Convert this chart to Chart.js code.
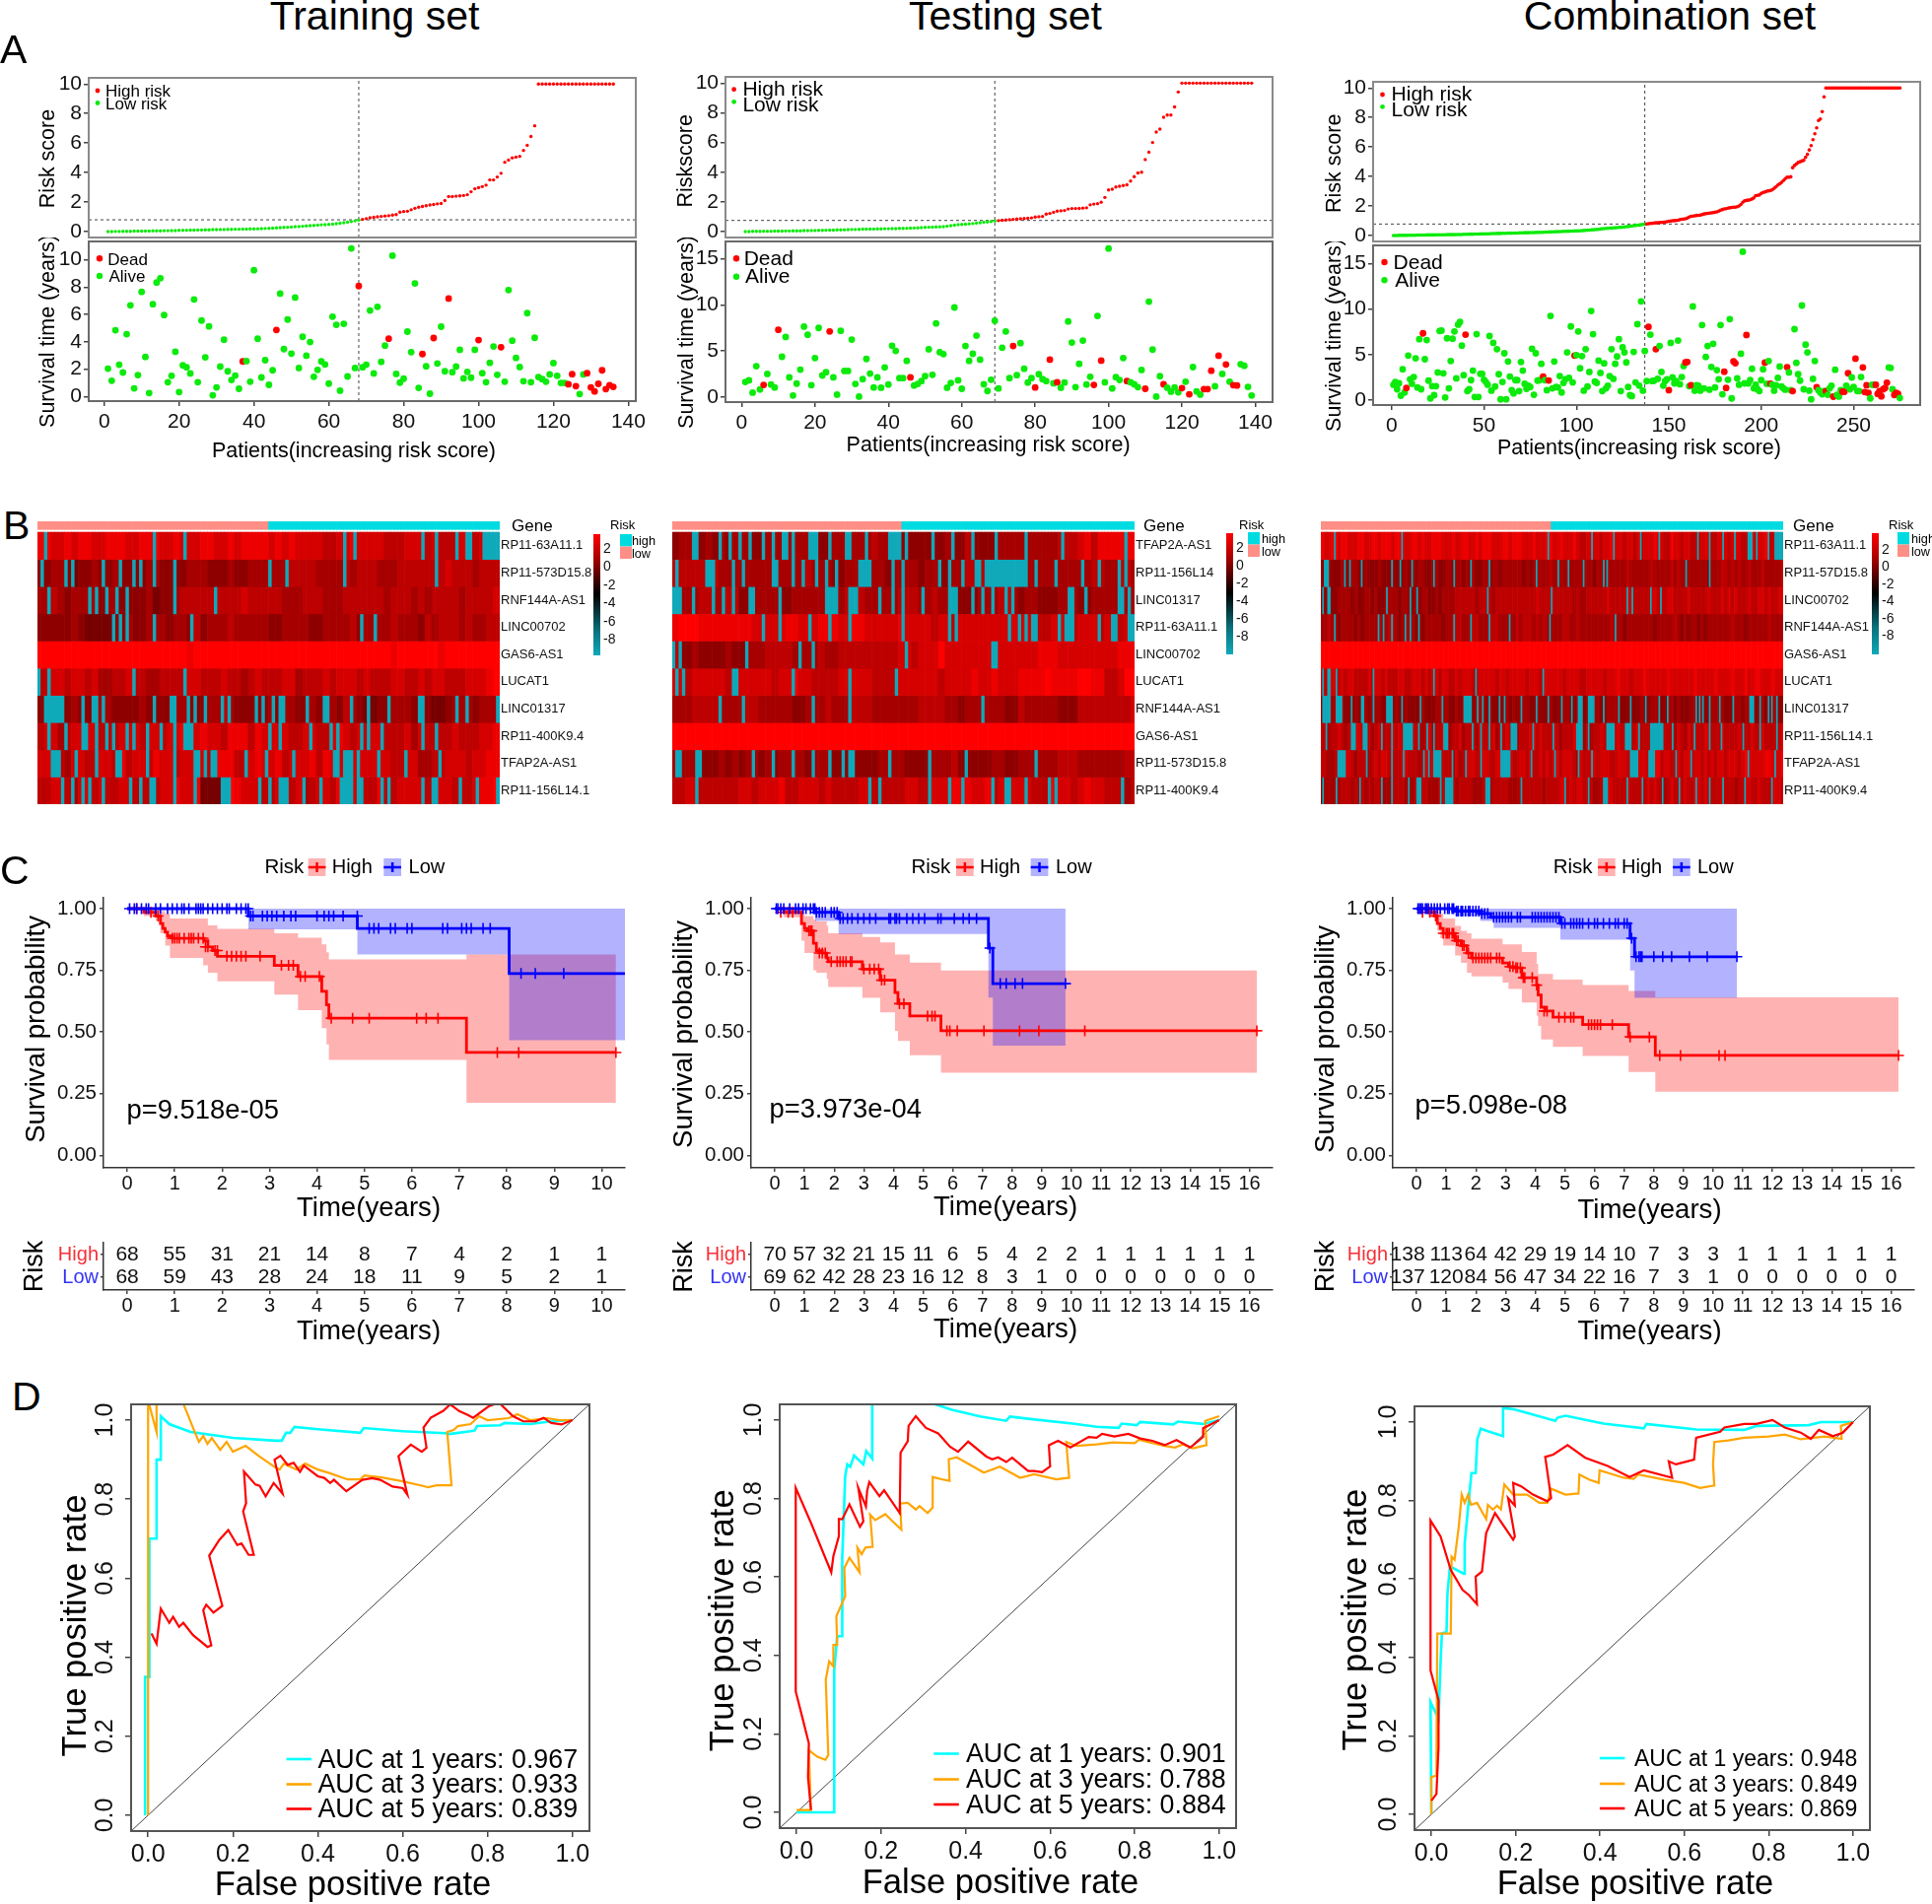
<!DOCTYPE html>
<html>
<head>
<meta charset="utf-8">
<title>Risk model panels</title>
<script src="https://cdn.jsdelivr.net/npm/chart.js@4/dist/chart.umd.js"></script>
<style>
body { margin:0; background:#fff; width:1960px; height:1932px; position:relative; overflow:hidden; font-family:"Liberation Sans",Arial,sans-serif; }
canvas { position:absolute; }
.lab { position:absolute; white-space:nowrap; line-height:1; color:#000; font-size:41px; }
</style>
</head>
<body>
<script>
// ---- A: risk score per patient, sorted
const riskTrain = [0,0,.01,.01,.02,.02,.02,.03,.03,.03,.04,.04,.05,.05,.05,.06,.06,.07,.07,.08,.09,.09,.1,.1,.11,.11,.12,.12,.13,.13,.14,.14,.15,.15,.16,.16,.17,.17,.18,.18,.19,.2,.21,.22,.23,.25,.27,.28,.29,.31,.33,.34,.36,.38,.4,.42,.44,.46,.47,.49,.51,.54,.57,.6,.64,.68,.73,.78,
  .83,.88,.94,.97,1,1.03,1.06,1.08,1.12,1.15,1.32,1.36,1.38,1.48,1.58,1.65,1.7,1.75,1.8,1.84,1.88,1.9,2.1,2.38,2.38,2.4,2.42,2.45,2.5,2.7,2.9,2.98,3.05,3.15,3.5,3.5,3.7,3.95,4.7,4.85,5,5.05,5.1,5.5,5.85,6.45,7.17,
  10,10,10,10,10,10,10,10,10,10,10,10,10,10,10,10,10,10,10,10,10];
const riskTest = [0,0,.01,.01,.01,.02,.02,.02,.03,.03,.03,.04,.04,.05,.05,.05,.06,.06,.07,.07,.08,.08,.09,.1,.1,.11,.11,.12,.13,.14,.14,.15,.16,.16,.17,.17,.18,.18,.19,.19,.2,.2,.21,.21,.22,.23,.24,.25,.27,.28,.29,.3,.31,.32,.33,.36,.4,.43,.46,.48,.5,.52,.54,.57,.6,.63,.65,.68,.72,
  .74,.76,.78,.8,.82,.84,.86,.88,.9,.92,.98,1,1.02,1.18,1.22,1.3,1.38,1.4,1.42,1.52,1.55,1.55,1.56,1.58,1.6,1.8,1.85,1.88,1.98,2.3,2.8,2.85,3,3.05,3.1,3.15,3.4,3.7,3.95,4,4.85,5.35,6,6.7,6.9,7.7,7.85,7.85,8.4,9.4,
  10,10,10,10,10,10,10,10,10,10,10,10,10,10,10,10,10,10,10,10];
const riskComb = [0,0,0,.01,.01,.01,.01,.01,.02,.02,.02,.02,.02,.03,.03,.03,.03,.03,.04,.04,.04,.04,.04,.05,.05,.05,.05,.05,.05,.06,.06,.06,.06,.06,.07,.07,.07,.07,.08,.08,.08,.09,.09,.09,.1,.1,.1,.11,.11,.11,.12,.12,.12,.13,.13,.13,.14,.14,.14,.15,.15,.15,.16,.16,.16,.17,.17,.17,.18,.18,.18,.19,.19,.19,.2,.2,.2,.21,.21,.21,.22,.22,.23,.23,.24,.24,.25,.25,.26,.26,.27,.27,.28,.28,.29,.29,.3,.3,.31,.31,.32,.32,.33,.34,.35,.36,.37,.38,.39,.4,.41,.42,.44,.46,.47,.48,.49,.5,.51,.52,.53,.54,.55,.56,.57,.58,.6,.61,.63,.65,.67,.68,.7,.71,.73,.75,.78,
  .79,.8,.82,.83,.85,.86,.87,.88,.89,.9,.92,.94,.97,.98,1,1.01,1.02,1.04,1.08,1.1,1.12,1.14,1.18,1.25,1.3,1.32,1.34,1.36,1.37,1.38,1.42,1.46,1.48,1.5,1.52,1.54,1.55,1.58,1.6,1.65,1.72,1.76,1.8,1.82,1.85,1.88,1.9,1.92,1.92,1.95,2,2.1,2.25,2.35,2.38,2.4,2.42,2.48,2.55,2.7,2.72,2.75,2.85,2.92,2.95,3,3.03,3.05,3.1,3.2,3.3,3.42,3.5,3.6,3.72,3.85,3.95,3.95,3.98,4.6,4.75,4.85,4.95,5,5.05,5.1,5.3,5.5,5.8,6.1,6.5,6.9,7.3,7.8,7.9,8.4,9.4,
  10,10,10,10,10,10,10,10,10,10,10,10,10,10,10,10,10,10,10,10,10,10,10,10,10,10,10,10,10,10,10,10,10,10,10,10,10,10,10,10,10];

// ---- A: survival time per patient, and which patients (1-based) died
const survTrain = [2.04,1.16,4.85,2.33,1.76,4.56,6.67,.6,1.57,7.65,2.9,.26,6.75,8.34,8.65,5.96,1.05,1.52,3.28,.33,2.28,2.14,1.69,7.1,1.05,5.56,2.87,5.13,.1,.67,2.19,4.16,1.85,1.21,1.54,.57,2.57,2.59,1.09,9.24,4.23,1.4,2.66,.86,1.92,4.87,7.53,3.47,5.63,3.14,7.24,2.09,4.37,2.99,3.99,1.45,1.95,2.57,2.35,.95,5.84,5.25,.43,5.32,1.47,10.83,2.09,8.08,2.14,2.33,6.29,1.69,6.56,2.54,3.73,4.23,10.3,1.66,1.02,1.31,4.75,3.25,8.27,.64,3.11,2.21,.21,4.28,2.42,5.11,1.85,7.17,1.78,2.19,3.42,1.33,1.81,1.38,3.42,4.13,1.71,1.05,2.47,3.66,1.59,3.61,1.09,7.79,4.09,2.83,2.16,1.12,6.1,1.05,4.3,1.43,1.28,1.09,1.62,2.45,1.52,1,1,.9,1.64,.76,.19,1.62,1.71,.67,.38,.93,1.92,.55,.83,.71];
const deadTrain = [37,46,68,76,85,88,92,100,106,124,125,126,129,130,131,132,133,134,135,136];
const survTest = [1.65,1.82,.49,3.36,.84,1.33,2.52,1.37,1.05,7.29,4.38,6.52,2.14,.18,1.47,2.98,7.64,6.76,1.3,4.24,7.5,2.35,2.7,7.12,2.14,.28,7.19,2.84,2.84,6.24,1.44,.07,1.96,4.14,2.56,1.05,2.14,1.02,3.22,1.37,5.57,5.01,2.07,2.07,3.93,2.14,1.26,1.44,1.75,2.28,5.19,2.42,7.99,4.87,4.66,1.02,1.54,9.71,1.82,.91,5.54,3.93,4.7,6.66,4.07,1.4,.67,1.89,8.27,.95,5.36,7.12,2.07,5.54,2.38,5.85,3.08,1.58,2.07,1.05,2.49,1.96,1.75,4.07,1.51,1.61,1.02,1.58,8.2,5.92,1.09,3.61,6.13,1.37,2.21,1.33,8.8,3.96,1.61,16.09,.95,2.17,1.86,4.24,1.75,1.61,1.4,1.09,2.94,.91,10.34,5.15,.07,2.28,1.4,1.02,.6,1.05,.53,.98,1.68,.32,3.26,.63,.28,.88,.88,2.87,1.19,4.49,2.52,3.54,1.68,1.3,1.26,3.57,3.4,1.12,.18];
const deadTest = [6,10,24,46,74,80,84,86,96,98,105,110,115,120,122,126,127,128,130,132,134,135];
const survComb = [1.7,2,1.2,1.85,.5,3.4,.85,1.35,4.9,2.3,1.8,2.55,4.6,1.4,6.7,1.2,7.34,4.5,6.6,2.15,.2,1.55,.55,1.55,3.05,7.6,7.65,2.95,.3,6.8,1.3,4.3,6.75,7.55,2.4,8.3,8.6,6,2.75,7.2,1,1.2,2.2,3.25,.35,7.25,.35,2.9,2.9,2.25,2,1.7,7.05,1.05,6.3,1.5,5.6,2.85,.1,2,5.15,.1,4.25,2.6,1.1,.75,2.2,2.2,1,4.2,3.25,1.8,1.25,1.6,1.45,5.65,.6,5.15,2.15,2.2,4,2.6,2.2,1.1,2.17,9.25,1.3,4.25,1.45,1.4,2.65,.85,1.9,2.3,5.25,2.45,8.1,1.95,4.9,4.95,7.55,3.5,4.85,1.05,5.6,1.5,3.1,9.8,7.25,2.05,1.9,4.35,3,1,4.05,1.3,1.6,2.65,5.6,2.35,4,4.8,6.7,1,5.8,5.25,4.15,1.45,.55,.45,5.3,1.95,8.35,1.6,10.85,1.05,5.4,2.1,8.05,7.2,2.1,2.15,5.6,2.35,5.95,3.1,1.6,2.1,2.3,1.1,6.3,2.5,1.85,2.1,6.55,1.75,2.55,3.75,4.15,4.2,1.55,1.64,10.3,1.05,1.65,1.6,1.05,8.25,1.3,4.75,5.95,1.15,3.65,6.2,1.4,3.3,2.3,8.25,.65,3.13,1.35,2.25,8.9,.2,4.27,4.06,2.4,1.7,5.1,16.3,1.85,7.16,1.85,2.2,3.45,1.3,1.7,1.2,1,2.2,3.4,4.13,1.8,4.3,1.82,1.7,1.05,1.65,2.45,3.7,1.5,1.3,1.15,3.63,3.05,1.1,1,7.8,4.1,2.85,2.15,10.4,1.2,6.1,5.25,1.05,.1,2.35,4.3,1.43,1.1,.85,.65,1,1,.6,1.3,1.6,.39,3.35,.6,.4,1.1,.93,.93,1.6,2.96,1.2,2.5,1.45,4.56,1,1,2.55,3.6,.9,1.64,.8,.2,1.7,1.7,1.7,.7,1,.43,1.2,1.35,1.92,3.6,3.55,1.2,.57,.8,.7,.25];
const deadComb = [8,17,40,82,85,99,139,143,150,159,160,162,180,181,185,186,192,202,205,214,217,230,235,239,244,245,247,251,255,256,257,258,262,263,264,265,266,267,268,272,273,274];

// ---- B: gene rows, per-row tone (one digit for two patients) and very low cells (1-based)
const genesTrain = ['RP11-63A11.1','RP11-573D15.8','RNF144A-AS1','LINC00702','GAS6-AS1','LUCAT1','LINC01317','RP11-400K9.4','TFAP2A-AS1','RP11-156L14.1'];
const toneTrain = [
 '77667677667776677766766677667677776767666655667666655566656555665656',
 '33443233433433334433334443334334444445555444454555444555555565554555',
 '44543444434433334233455555555565555544455544455555545554545555455556',
 '33333432222334334443443534445444443344443344445344445444354555454455',
 '88889988888989888888887888888888988888888888998888887888888788888889',
 '55665665644556554455556655565545655566455565666565556655656655566678',
 '34443433344333343333443334454333334344334344354322334443332234443444',
 '56645666655566656656675676657775766665566556765656655564655556555667',
 '66654665566575665766566665777556766756667576656666665566445566656677',
 '55665466565566555566766722288766655665645665756555755666656665556778'];
const lowTrain = [
 [3,35,44,91,94,114,118,124,127,128,132,133,134,135,136],
 [2,9,11,20,25,29,31,35,41,69,74,91,118],
 [4,16,18,21,24,27,41,53],
 [23,25,27,35,46,96,100],
 [],
 [1,4,29,44],
 [3,4,5,6,7,8,14,17,18,20,35,40,41,45,47,50,55,57,65,67,70,72,73,80,85,86,93,98,104,113,114,124,127,136],
 [4,9,14,15,18,21,23,27,29,33,37,41,44,45,46,69,72,81,87,89,96,98,102,114,118],
 [5,6,7,12,18,24,25,33,41,47,48,50,52,53,62,68,76,88,89,91,92,93,95,101,109,119],
 [8,11,14,16,20,28,31,34,35,41,47,55,56,57,66,69,72,73,74,79,84,90,91,92,93,95,96,102,104,114,117,118,125,130,136]];
const genesTest = ['TFAP2A-AS1','RP11-156L14','LINC01317','RP11-63A11.1','LINC00702','LUCAT1','RNF144A-AS1','GAS6-AS1','RP11-573D15.8','RP11-400K9.4'];
const toneTest = [
 '3444343434443344444444334434445443333333343353333444444444555675777777',
 '5555545444444444444454443344444434444344334455544444344444444445544554',
 '4444554455334444334444444455544444555445443333444554344333444334444544',
 '7888777777776666677666777667766666766665665666666666666556665666566566',
 '5334333343344455554444544555555555665666866666666666666777666666666777',
 '6656666655666665667665555666665555666666566667667666777787777887755688',
 '4445555444455444443344454445554444444555544344444433544444333555555556',
 '8899998888988888998988888889998888888998888898889888988889888888898888',
 '4444333434344343444434443333333444433334445333334433444444555444444455',
 '5566555555665666755666565555665555566556667776675666665557665676655545'];
const lowTest = [
 [7,8,15,18,21,24,28,31,34,35,37,42,43,44,48,53,54,59,66,67,68,69,71,79,85,91,98,107,118,137],
 [2,11,12,13,19,22,31,32,37,40,44,47,50,57,58,59,60,67,70,81,84,88,92,93,95,96,97,98,99,100,101,102,103,104,105,106,107,110,116,124,129,135,137],
 [1,2,3,7,13,16,19,24,25,33,47,48,49,50,54,55,56,63,67,70,76,84,85,86,91,94,97,101,103,120,121,125,135,136,138],
 [28,33,42,48,54,70,84,86,102,105,107,109,110,117,119,120,121,129,133,134,138,139],
 [1,3,23,39,43,71,97,98],
 [2,4,19,20,37,54,68],
 [15,22,43,54,94],
 [],
 [2,3,8,9,25,31,37,43,48,52,54,55,66,78,89,110],
 [8,60,63,78,84,88,97,101,102,107,114,116,136]];
const genesComb = ['RP11-63A11.1','RP11-57D15.8','LINC00702','RNF144A-AS1','GAS6-AS1','LUCAT1','LINC01317','RP11-156L14.1','TFAP2A-AS1','RP11-400K9.4'];
const toneComb = [
 '766776776667766776777677666776766777666766776676777666776777666766677667666765566665667666566565666766557665665556665566656665566566755665665565',
 '334333433443343334333433343434433443344344343433443443444444343444445444444444444344444444454444445444445454444444434445545454454445444445554555',
 '434334444343344343344443443343443343444455555545555455555555555565555555555454455555565555565555556655566555565555565556565655565566565566665666',
 '445443444434344445445543444434344444344555444554445554444454555454544444554454444444445444344444444344444543434434344444445444344444454444554444',
 '889888889888898889988888898888898888988888889888898888888988888889888988889988888888988888898888898888988888888898888888898888888898888889888889',
 '656665656655556566565556655666565665665565666556666656656666656665666666566665566666566676665666766666676666666766666766667666766776667666756666',
 '343443433343443444333343343333433344443343443344434333343434443343334333443344334443344443333334334443344343334434334444333443444334344433444444',
 '554556545566545456555656545554456455664556455546555645565545556656555654555656454556554565555565555655555465465555665556555565556556555556556667',
 '554455666545554565665555665554565666555464566655665566666556656556565665666546556656665566655566656775665565665665656566566656766666776667666777',
 '344444555454545455444555544454554445554545555444554555554445555555455556656566555445566555565555565654456555655665655556555455665565556665655545'];
const lowComb = [
 [9,49,136,162,175,191,202,225,232,240,247,255,256,257,260,267,271,272,273,274,275],
 [3,4,5,15,18,25,43,48,55,68,80,90,101,129,142,148,157,169,171,218,232],
 [2,5,6,40,54,58,100,138,183,186,197,203],
 [9,35,38,43,51,54,59,80,90,101,113,137,176],
 [],
 [2,5,6,10,32,68,93,133],
 [2,3,4,5,6,10,11,12,13,19,25,26,32,40,41,42,43,49,60,73,86,87,88,89,90,94,97,101,107,110,120,129,136,144,150,154,155,156,160,161,162,163,169,178,185,194,202,207,224,226,228,232,238,246,256,257,258,262,267,269,272],
 [4,19,20,21,26,27,28,37,43,50,51,52,53,54,55,59,64,68,74,75,76,91,96,101,108,114,115,116,117,127,139,153,154,155,156,160,171,172,173,174,175,182,183,184,185,190,197,198,199,200,201,202,203,204,210,223,232,239,252,262,272],
 [11,12,13,14,15,28,43,50,62,65,68,69,70,71,72,79,87,96,108,109,110,111,112,113,126,140,154,162,185,186,187,188,189,196,197,198,199,212,221,255,271],
 [2,10,24,37,43,53,58,59,60,72,75,76,77,78,79,99,100,101,120,146,160,169,170,171,183,192,204,214,224,232,240,253,269]];

// ---- C: Kaplan-Meier steps, bands, censor marks, numbers at risk
const kmHighT1 = [0,.35,.6,.7,.75,.8,.85,.95,1.62,1.7,1.8,1.9,3.1,3.6,4.1,4.2,4.25,7.15,10.3];
const kmHighS1 = [1,.985,.97,.94,.92,.905,.89,.88,.87,.845,.83,.807,.77,.725,.665,.61,.556,.417,.417];
const bandHighT1 = [.35,.6,.7,.8,.9,1.6,1.7,1.9,3.1,3.6,4.1,4.2,4.25,7.15,10.3];
const bandHighU1 = [1,1,.99,.98,.96,.96,.932,.918,.9,.882,.855,.823,.794,.814,.814];
const bandHighL1 = [.97,.95,.9,.85,.8,.77,.74,.705,.651,.589,.516,.45,.387,.213,.213];
const kmLowT1 = [0,2.55,4.85,8.05,10.49];
const kmLowS1 = [1,.97,.92,.737,.737];
const bandLowT1 = [2.55,4.85,8.05,10.49];
const bandLowU1 = [1,1,1,1];
const bandLowL1 = [.916,.814,.467,.467];
const marksHigh1 = [[1,[.2]],[.985,[.5]],[.97,[.65]],[.88,[.95,1,1.05,1.1,1.2,1.3,1.35,1.4,1.5,1.6]],[.845,[1.65,1.7]],[.83,[1.85,1.9]],[.807,[2.1,2.2,2.3,2.4,2.5,2.8]],[.77,[3.25,3.4,3.5]],[.725,[3.65,3.75,4.05]],[.556,[4.3,4.75,5.1,6.1,6.3,6.55]],[.417,[7.8,8.25,10.3]]];
const marksLow1 = [[1,[.05,.15,.2,.3,.4,.45,.6,.7,.85,.95,1.05,1.15,1.2,1.3,1.45,1.5,1.55,1.6,1.7,1.8,1.9,2,2.1,2.15,2.3,2.4,2.5,2.55]],[.97,[2.6,2.65,2.85,2.95,3.05,3.15,3.3,3.45,3.55,4,4.15,4.25,4.35,4.55,4.85]],[.92,[5.1,5.2,5.3,5.55,5.65,5.9,6,6.65,6.75,7.05,7.15,7.25,7.5,7.65]],[.737,[8.3,8.6,9.2]]];
const atRiskHigh1 = [68,55,31,21,14,8,7,4,2,1,1];
const atRiskLow1 = [68,59,43,28,24,18,11,9,5,2,1];

const kmHighT2 = [0,.3,.9,1,1.1,1.3,1.4,1.6,1.75,1.8,2.95,3.55,4.05,4.15,4.55,5.6,16.25];
const kmHighS2 = [1,.985,.94,.92,.91,.86,.83,.82,.8,.785,.755,.71,.66,.615,.565,.505,.505];
const bandHighT2 = [.3,.85,.9,1,1.3,1.4,1.75,1.8,2.95,3.55,4.05,4.15,4.55,5.6,16.25];
const bandHighU2 = [1,1,.99,.97,.955,.948,.93,.9,.885,.863,.814,.814,.781,.749,.749];
const bandHighL2 = [.965,.93,.87,.82,.75,.74,.715,.682,.638,.58,.505,.464,.406,.335,.335];
const kmLowT2 = [0,1.35,2.15,7.2,7.35,9.8];
const kmLowS2 = [1,.985,.96,.84,.696,.696];
const bandLowT2 = [1.35,2.15,7.2,7.35,9.8];
const bandLowU2 = [1,1,1,1,1];
const bandLowL2 = [.95,.897,.639,.445,.445];
const marksHigh2 = [[.985,[.2,.45,.6]],[.91,[1.15,1.2,1.25]],[.82,[1.5,1.6,1.7]],[.785,[1.9,2.1,2.2,2.3,2.4,2.55,2.6]],[.755,[3,3.2,3.35,3.5]],[.71,[3.6,3.7]],[.615,[4.2,4.35]],[.565,[5.15,5.3,5.4]],[.505,[5.8,5.9,6.15,7.05,8.25,8.9,10.45,16.25]]];
const marksLow2 = [[1,[.05,.1,.2,.3,.5,.7,.8,.95,1.05,1.2,1.3,1.35]],[.985,[1.4,1.5,1.6,1.7,1.9,2,2.1]],[.96,[2.2,2.3,2.45,2.6,2.8,3,3.2,3.4,3.85,3.9,4.05,4.1,4.2,4.45,4.65,4.85,5.05,5.5,5.6,6.05,6.35,6.55,6.8]],[.84,[7.25]],[.696,[7.6,7.8,8.1,8.35,9.8]]];
const atRiskHigh2 = [70,57,32,21,15,11,6,5,4,2,2,1,1,1,1,1,1];
const atRiskLow2 = [69,62,42,28,23,16,12,8,3,1,0,0,0,0,0,0,0];

const kmHighT3 = [0,.4,.6,.7,.8,.9,1.3,1.5,1.7,1.85,2.9,3.1,3.3,3.55,4.05,4.1,4.2,4.35,4.6,5.6,7.15,8.05,16.25];
const kmHighS3 = [1,.985,.97,.94,.92,.9,.87,.85,.82,.8,.78,.765,.76,.72,.69,.65,.6,.585,.56,.53,.48,.405,.405];
const bandHighT3 = [.4,.6,.7,.8,.9,1.3,1.5,1.7,1.85,2.9,3.1,3.55,4.05,4.1,4.2,4.6,5.6,7.15,8.05,16.25];
const bandHighU3 = [1,1,.99,.98,.96,.93,.91,.9,.878,.855,.855,.824,.776,.735,.735,.712,.69,.666,.64,.64];
const bandHighL3 = [.97,.95,.91,.88,.85,.81,.78,.74,.725,.7,.674,.62,.566,.525,.47,.44,.403,.338,.258,.258];
const kmLowT3 = [0,1.3,2.15,2.5,4.85,7.2,7.35,10.8];
const kmLowS3 = [1,.99,.98,.965,.94,.88,.805,.805];
const bandLowT3 = [1.3,2.15,2.6,4.85,7.2,7.35,10.8];
const bandLowU3 = [1,1,1,1,1,1,1];
const bandLowL3 = [.97,.95,.922,.874,.749,.638,.638];
const marksHigh3 = [[.985,[.2,.45]],[.97,[.65]],[.9,[.9,1,1.05,1.1,1.2,1.25]],[.87,[1.35,1.4]],[.85,[1.55,1.6]],[.82,[1.75]],[.8,[1.9,2,2.1,2.2,2.3,2.4,2.5,2.7,2.8]],[.765,[3.15,3.25]],[.76,[3.35,3.4,3.5]],[.72,[3.6,3.65,3.9]],[.69,[4.05]],[.585,[4.3,4.4]],[.56,[4.8,5,5.2,5.3]],[.53,[5.8,5.9,6,6.1,6.2,6.6]],[.48,[7.2,7.85]],[.405,[8.2,8.9,10.2,10.4,16.25]]];
const marksLow3 = [[1,[.05,.1,.15,.2,.3,.35,.4,.5,.6,.7,.8,.95,1.05,1.1,1.2,1.25]],[.99,[1.35,1.4,1.5,1.55,1.65,1.75,1.8,1.9,2,2.1]],[.98,[2.2,2.3,2.4]],[.965,[2.6,2.7,2.8,2.9,3,3.1,3.2,3.4,3.5,3.9,4,4.1,4.2,4.3,4.4,4.5,4.6,4.7,4.8]],[.94,[4.9,5,5.2,5.3,5.4,5.5,5.6,5.8,6,6.1,6.3,6.5,6.7,6.8,7,7.1]],[.88,[7.25]],[.805,[7.4,7.5,7.55,7.6,8,8.3,8.6,9.2,9.8,10.8]]];
const atRiskHigh3 = [138,113,64,42,29,19,14,10,7,3,3,1,1,1,1,1,1];
const atRiskLow3 = [137,120,84,56,47,34,22,16,7,3,1,0,0,0,0,0,0];

// ---- D: ROC curves as [fpr, tpr]
const rocDiagonal = [[-.04,-.04],[1.04,1.04]];
const roc1y1 = [[-.007,0],[-.007,.35],[.003,.35],[.003,.7],[.02,.7],[.02,.9],[.03,.9],[.03,1.01],[.05,.99],[.1,.97],[.2,.955],[.3,.948],[.315,.948],[.325,.968],[.335,.968],[.345,.983],[.4,.977],[.5,.968],[.508,.98],[.6,.972],[.7,.967],[.71,.965],[.76,.972],[.77,.974],[.775,.985],[.83,.987],[.84,.993],[.9,.99],[.95,.997],[1,1]];
const roc1y3 = [[0,0],[0,1.05],[.02,.97],[.02,1.05],[.08,1.05],[.11,.97],[.12,.945],[.13,.96],[.14,.94],[.15,.955],[.17,.925],[.185,.945],[.2,.92],[.22,.93],[.23,.935],[.26,.91],[.3,.88],[.31,.875],[.32,.89],[.35,.875],[.37,.89],[.4,.875],[.43,.865],[.47,.85],[.5,.85],[.51,.86],[.55,.855],[.6,.845],[.65,.833],[.66,.83],[.68,.835],[.715,.835],[.705,.97],[.72,.975],[.73,.985],[.76,.99],[.78,1.01],[.8,1],[.85,1.005],[.87,1.015],[.9,1],[.94,1.005],[.97,1],[1,1]];
const roc1y5 = [[.008,.46],[.02,.434],[.03,.523],[.05,.487],[.059,.502],[.073,.477],[.083,.487],[.106,.456],[.14,.426],[.149,.43],[.13,.519],[.137,.533],[.154,.513],[.175,.53],[.144,.657],[.168,.697],[.189,.722],[.21,.684],[.22,.688],[.237,.659],[.249,.659],[.224,.769],[.231,.79],[.226,.87],[.253,.837],[.263,.834],[.277,.807],[.296,.841],[.317,.814],[.298,.9],[.312,.91],[.329,.887],[.343,.892],[.358,.869],[.367,.885],[.4,.858],[.415,.854],[.429,.841],[.438,.849],[.467,.82],[.505,.849],[.528,.853],[.547,.849],[.576,.832],[.6,.828],[.611,.811],[.59,.909],[.619,.938],[.645,.92],[.656,.93],[.649,.981],[.666,1.006],[.695,1.023],[.712,1.04],[.733,1.023],[.752,1.014],[.766,1.006],[.804,1.036],[.827,1.044],[.86,1.01],[.884,.997],[.913,.997],[.932,1.006],[.95,.993],[.974,.989],[1,1]];
const roc2y1 = [[0,0],[.089,0],[.089,.363],[.096,.449],[.108,.449],[.108,.649],[.115,.857],[.12,.887],[.127,.881],[.136,.91],[.158,.887],[.165,.921],[.179,.902],[.179,1.045],[.32,1.043],[.367,1.026],[.434,1.009],[.496,.998],[.505,1.009],[.558,1.002],[.653,.991],[.71,.983],[.762,.98],[.769,.991],[.805,.987],[.813,.995],[.891,.989],[.902,.996],[.962,.99],[1,1]];
const roc2y3 = [[0,.006],[.034,.006],[.029,.159],[.049,.142],[.068,.134],[.075,.146],[.069,.338],[.077,.385],[.087,.372],[.087,.427],[.096,.427],[.094,.5],[.115,.551],[.113,.623],[.125,.649],[.149,.612],[.144,.675],[.154,.658],[.163,.675],[.18,.677],[.174,.759],[.186,.745],[.21,.76],[.226,.743],[.248,.721],[.245,.787],[.263,.789],[.282,.772],[.291,.781],[.31,.763],[.322,.777],[.322,.855],[.343,.849],[.362,.845],[.36,.9],[.379,.905],[.443,.866],[.481,.881],[.529,.853],[.562,.862],[.615,.849],[.645,.853],[.638,.944],[.662,.934],[.71,.938],[.748,.943],[.8,.941],[.81,.95],[.871,.934],[.895,.93],[.914,.938],[.938,.928],[.97,.936],[.967,.998],[1,1.01]];
const roc2y5 = [[.034,.006],[.027,.09],[.029,.176],[.015,.236],[-.002,.308],[-.002,.827],[.034,.738],[.082,.612],[.087,.653],[.1,.704],[.1,.748],[.108,.747],[.125,.785],[.15,.728],[.158,.742],[.146,.827],[.164,.78],[.167,.82],[.172,.842],[.196,.806],[.207,.821],[.244,.763],[.246,.917],[.263,.946],[.265,.985],[.282,1.01],[.306,.98],[.335,.966],[.363,.932],[.382,.919],[.406,.945],[.449,.907],[.463,.9],[.477,.905],[.496,.893],[.51,.904],[.548,.87],[.562,.87],[.581,.867],[.6,.882],[.597,.936],[.619,.947],[.648,.93],[.691,.957],[.71,.955],[.723,.965],[.752,.958],[.785,.965],[.813,.953],[.842,.947],[.871,.936],[.899,.949],[.932,.93],[.962,.957],[.962,.979],[1,1]];
const roc3y1 = [[0,0],[-.002,.286],[.017,.244],[.022,.393],[.025,.461],[.036,.465],[.038,.559],[.044,.632],[.077,.613],[.079,.691],[.095,.87],[.105,.87],[.109,.956],[.117,.983],[.132,.977],[.17,.964],[.17,1.036],[.198,1.032],[.294,1.003],[.299,1.011],[.318,1.016],[.408,.996],[.504,.984],[.51,.995],[.628,.981],[.742,.98],[.771,.99],[.895,.992],[.924,1],[1,1]];
const roc3y3 = [[0,0],[0,.095],[.012,.099],[.014,.461],[.046,.461],[.048,.657],[.055,.649],[.065,.734],[.072,.815],[.079,.794],[.087,.815],[.094,.789],[.108,.794],[.13,.753],[.134,.789],[.146,.777],[.156,.787],[.165,.777],[.173,.841],[.194,.815],[.227,.815],[.256,.794],[.275,.794],[.284,.83],[.318,.815],[.349,.818],[.351,.866],[.375,.853],[.397,.845],[.399,.877],[.456,.858],[.48,.855],[.49,.866],[.552,.853],[.599,.845],[.637,.832],[.671,.838],[.668,.892],[.671,.949],[.704,.953],[.742,.96],[.8,.963],[.838,.968],[.876,.956],[.933,.963],[.973,.957],[.971,.99],[1,1]];
const roc3y5 = [[0,.035],[.012,.052],[.017,.171],[.017,.291],[-.002,.367],[-.002,.749],[.022,.708],[.046,.623],[.074,.572],[.089,.559],[.108,.536],[.105,.606],[.12,.619],[.13,.717],[.151,.768],[.194,.7],[.198,.708],[.182,.806],[.198,.787],[.194,.845],[.213,.836],[.241,.815],[.275,.798],[.284,.806],[.27,.911],[.289,.917],[.323,.941],[.365,.909],[.418,.888],[.47,.86],[.504,.877],[.571,.858],[.563,.9],[.58,.892],[.623,.904],[.628,.96],[.685,.975],[.695,.986],[.742,.995],[.771,.995],[.809,1.005],[.838,.986],[.876,.973],[.9,.957],[.919,.98],[.952,.964],[.976,.973],[1,1]];

const FONT = '"Liberation Sans", Arial, sans-serif';
Chart.defaults.font.family = FONT;
const GREEN = '#0CEB0C', RED = '#FF0000', SALMON = '#FF8F86', CYAN = '#00DBE2';

// force the scale box to a fixed size, so the plot rectangle is what we asked for
const pin = n => s => {
  if (s.isHorizontal()) s.height = n; else s.width = n;
  s.paddingLeft = s.paddingRight = s.paddingTop = s.paddingBottom = 0;
};

function axis(min, max, vals, size, pinTo, o = {}) {
  return {
    type: 'linear', min, max, reverse: !!o.reverse, position: o.position,
    afterBuildTicks: s => { s.ticks = vals.map(v => ({ value: v })); },
    afterFit: pin(pinTo),
    grid: { drawOnChartArea: false, drawTicks: true, tickLength: o.tick ?? 5, color: '#444', lineWidth: 1.5 },
    border: { color: '#333', width: 1.5 },
    ticks: { font: { size }, color: o.color || '#111', autoSkip: false, minRotation: o.rot || 0, maxRotation: o.rot || 0,
      padding: o.pad ?? 3, crossAlign: o.cross || 'near', callback: o.fmt || (v => v) }
  };
}
const bare = (min, max, pinTo) => ({ type: 'linear', min, max, afterFit: pin(pinTo), ticks: { display: false }, grid: { display: false, drawTicks: false }, border: { display: false } });

// text, dots and keys placed in page coordinates
const T = (t, x, y, s, o = {}) => Object.assign({ t, x, y, s }, o);
function notes(items) {
  return { id: 'notes', afterDraw(chart) {
    const c = chart.ctx, ox = parseFloat(chart.canvas.style.left), oy = parseFloat(chart.canvas.style.top);
    items.forEach(i => {
      c.save();
      c.translate(i.x - ox, i.y - oy);
      if (i.t !== undefined) {
        if (i.r) c.rotate(i.r * Math.PI / 180);
        c.font = `${i.s}px ${FONT}`; c.fillStyle = i.c || '#000';
        c.textAlign = i.a || 'left'; c.textBaseline = 'middle';
        c.fillText(i.t, 0, 1.5);
      } else if (i.dot) {
        c.fillStyle = i.c; c.beginPath(); c.arc(0, 0, i.dot, 0, 7); c.fill();
      } else if (i.w) {
        c.fillStyle = i.c; c.fillRect(0, 0, i.w, i.h);
      } else if (i.len) {
        c.strokeStyle = i.c; c.lineWidth = i.lw || 2.5;
        c.beginPath(); c.moveTo(0, 0); c.lineTo(i.len, 0);
        if (i.cross) { c.moveTo(i.len / 2, -5); c.lineTo(i.len / 2, 5); }
        c.stroke();
      }
      c.restore();
    });
  } };
}
const frame = col => ({ id: 'frame', afterDatasetsDraw(chart) {
  const a = chart.chartArea, c = chart.ctx;
  c.save(); c.strokeStyle = col; c.lineWidth = 2; c.strokeRect(a.left, a.top, a.right - a.left, a.bottom - a.top); c.restore();
} });

function place(rect, m, type, datasets, scales, plugins, padding, labels) {
  const cv = document.createElement('canvas');
  cv.width = rect.w + m.l + m.r; cv.height = rect.h + m.t + m.b;
  cv.style.left = (rect.x - m.l) + 'px'; cv.style.top = (rect.y - m.t) + 'px';
  document.body.appendChild(cv);
  return new Chart(cv, { type, data: { labels, datasets }, plugins,
    options: { responsive: false, animation: false, events: [], devicePixelRatio: 1, layout: { padding }, scales,
      elements: { line: { tension: 0 } }, plugins: { legend: { display: false }, tooltip: { enabled: false } } } });
}
const pts = (xs, ys) => xs.map((x, i) => ({ x, y: ys[i] }));
const rule = (a, b) => ({ data: [a, b], borderColor: '#444', borderWidth: 1, borderDash: [3, 3], pointRadius: 0 });
const tickRange = n => Array.from({ length: n }, (_, i) => i);

function panelA(o) {
  const split = o.split, n = o.risk.length;
  const xv = tickRange(n).map(i => i + 1);
  const colRisk = xv.map(p => p <= split ? GREEN : RED);
  const colSurv = xv.map(p => o.dead.includes(p) ? RED : GREEN);
  const m1 = { l: 70, r: 14, t: 8, b: 2 };
  place(o.r1, m1, 'line', [
    { data: pts(xv, o.risk), showLine: false, pointRadius: o.rad, pointBorderWidth: 0, pointBackgroundColor: colRisk },
    rule({ x: split, y: o.y1[0] }, { x: split, y: o.y1[1] }),
    rule({ x: o.xlim[0], y: o.cut }, { x: o.xlim[1], y: o.cut })
  ], {
    x: bare(o.xlim[0], o.xlim[1], m1.b),
    y: axis(o.y1[0], o.y1[1], [0, 2, 4, 6, 8, 10], 21, m1.l, { tick: 5, pad: 2 })
  }, [frame('#8a8a8a'), notes(o.n1)], { top: m1.t, right: m1.r });
  const m2 = { l: 70, r: 14, t: 2, b: 62 };
  place(o.r2, m2, 'line', [
    { data: pts(xv, o.surv), showLine: false, pointRadius: 3.4, pointBorderWidth: 0, pointBackgroundColor: colSurv },
    rule({ x: split, y: o.y2[0] }, { x: split, y: o.y2[1] })
  ], {
    x: axis(o.xlim[0], o.xlim[1], o.xt, 21, m2.b, { tick: 5, pad: 4 }),
    y: axis(o.y2[0], o.y2[1], o.yt, 21, m2.l, { tick: 5, pad: 2 })
  }, [frame('#6a6a6a'), notes(o.n2)], { top: m2.t, right: m2.r });
}

panelA({ risk: riskTrain, surv: survTrain, dead: deadTrain, split: 68, cut: .8, rad: 1.7,
  r1: { x: 90, y: 79, w: 555, h: 164 }, r2: { x: 90, y: 243, w: 555, h: 164 }, xlim: [-4.14, 142], y1: [-.4, 10.42], y2: [-.33, 11.34],
  xt: [0, 20, 40, 60, 80, 100, 120, 140], yt: [0, 2, 4, 6, 8, 10],
  n1: [T('Risk score', 47.7, 161, 21.5, { r: -90, a: 'center' }), { dot: 2.4, x: 99, y: 92, c: RED }, { dot: 2.4, x: 99, y: 104.5, c: GREEN }, T('High risk', 107, 92, 17), T('Low risk', 107, 105, 17)],
  n2: [T('Survival time (years)', 47.7, 336, 21.5, { r: -90, a: 'center' }), { dot: 3.2, x: 101, y: 262.3, c: RED }, { dot: 3.2, x: 101, y: 280, c: GREEN }, T('Dead', 109.3, 263.3, 17), T('Alive', 110.5, 280, 17), T('Patients(increasing risk score)', 359, 456.5, 21.5, { a: 'center' })] });
panelA({ risk: riskTest, surv: survTest, dead: deadTest, split: 69, cut: .75, rad: 1.7,
  r1: { x: 736, y: 78, w: 555, h: 165 }, r2: { x: 736, y: 243, w: 555, h: 165 }, xlim: [-4.4, 144.7], y1: [-.4, 10.42], y2: [-.53, 16.86],
  xt: [0, 20, 40, 60, 80, 100, 120, 140], yt: [0, 5, 10, 15],
  n1: [T('Riskscore', 694.5, 163.3, 21.5, { r: -90, a: 'center' }), { dot: 2.4, x: 744.6, y: 90.7, c: RED }, { dot: 2.4, x: 744.6, y: 103.3, c: GREEN }, T('High risk', 753.4, 90, 21), T('Low risk', 753.4, 106, 21)],
  n2: [T('Survival time (years)', 695.8, 337, 21.5, { r: -90, a: 'center' }), { dot: 3.2, x: 747, y: 262.3, c: RED }, { dot: 3.2, x: 747, y: 280.7, c: GREEN }, T('Dead', 754.7, 262, 21), T('Alive', 756, 280, 21), T('Patients(increasing risk score)', 1002.6, 450.7, 21.5, { a: 'center' })] });
panelA({ risk: riskComb, surv: survComb, dead: deadComb, split: 137, cut: .78, rad: 1.8,
  r1: { x: 1393, y: 83, w: 555, h: 164 }, r2: { x: 1393, y: 247, w: 555, h: 164 }, xlim: [-10, 286], y1: [-.4, 10.42], y2: [-.53, 17],
  xt: [0, 50, 100, 150, 200, 250], yt: [0, 5, 10, 15],
  n1: [T('Risk score', 1352.7, 165.8, 21.5, { r: -90, a: 'center' }), { dot: 2.4, x: 1402.5, y: 96, c: RED }, { dot: 2.4, x: 1402.5, y: 108.3, c: GREEN }, T('High risk', 1411.6, 94.5, 21), T('Low risk', 1411.6, 110.7, 21)],
  n2: [T('Survival time (years)', 1352.7, 340, 21.5, { r: -90, a: 'center' }), { dot: 3.2, x: 1404.5, y: 266, c: RED }, { dot: 3.2, x: 1404.5, y: 284.3, c: GREEN }, T('Dead', 1413.6, 265.7, 21), T('Alive', 1415.3, 284, 21), T('Patients(increasing risk score)', 1663, 453.3, 21.5, { a: 'center' })] });

// colour ramp of the heatmaps: teal - black - red
function heatColor(v) {
  const k = v >= -3 ? Math.min(1, (v + 3) / 6) : Math.min(1, (-3 - v) / 6);
  return v >= -3 ? `rgb(${Math.round(255 * k)},0,0)` : `rgb(${Math.round(15 * k)},${Math.round(169 * k)},${Math.round(186 * k)})`;
}
const LOW_CELL = -9;
const toneValue = d => -1.3 + .55 * d;

function panelB(o) {
  const n = o.cols, labels = tickRange(n).map(i => i + 1);
  const rows = o.genes.map((g, r) => {
    const low = o.low[r];
    const vals = labels.map((p, i) => low.includes(p) ? LOW_CELL : toneValue(+(o.tone[r][Math.floor(i / 2)] ?? 5)));
    return { data: vals.map(() => [r, r + 1]), backgroundColor: vals.map(heatColor), grouped: false, barPercentage: 1, categoryPercentage: 1, borderWidth: 0, borderSkipped: false };
  });
  rows.push({ data: labels.map(() => [-.39, -.1]), backgroundColor: labels.map(p => p <= o.split ? SALMON : CYAN), grouped: false, barPercentage: 1, categoryPercentage: 1, borderWidth: 0, borderSkipped: false });
  const m = { l: 0, r: 165, t: 8, b: 2 };
  place(o.rect, m, 'bar', rows, {
    x: { type: 'category', afterFit: pin(m.b), ticks: { display: false }, grid: { display: false, drawTicks: false }, border: { display: false } },
    y: { type: 'linear', min: -.4, max: 10, reverse: true, position: 'right', afterFit: pin(m.r), grid: { display: false, drawTicks: false }, border: { display: false },
      afterBuildTicks: s => { s.ticks = o.genes.map((g, i) => ({ value: i + .5 })); },
      ticks: { autoSkip: false, padding: 1, font: { size: 13 }, color: '#111', callback: (v, i) => o.genes[i] } }
  }, [notes(o.n)], { top: m.t }, labels);
  const mc = { l: 0, r: 26, t: 1, b: 1 };
  place(o.bar, mc, 'bar', [{ data: [[o.barLim[0], o.barLim[1]]], barPercentage: 1, categoryPercentage: 1, borderWidth: 0, borderSkipped: false,
    backgroundColor: c => {
      const a = c.chart.chartArea; if (!a) return RED;
      const g = c.chart.ctx.createLinearGradient(0, a.top, 0, a.bottom), y = c.chart.scales.y;
      const stop = v => Math.max(0, Math.min(1, (y.getPixelForValue(v) - a.top) / (a.bottom - a.top)));
      [o.barLim[1], 1, -1, -3, -5, -7, o.barLim[0]].forEach(v => g.addColorStop(stop(v), heatColor(v)));
      return g;
    } }], {
    x: { type: 'category', afterFit: pin(mc.b), ticks: { display: false }, grid: { display: false, drawTicks: false }, border: { display: false } },
    y: { type: 'linear', min: o.barLim[0], max: o.barLim[1], position: 'right', afterFit: pin(mc.r), grid: { display: false, drawTicks: false }, border: { display: false },
      afterBuildTicks: s => { s.ticks = [2, 0, -2, -4, -6, -8].map(v => ({ value: v })); },
      ticks: { autoSkip: false, padding: 3, font: { size: 14 }, color: '#111', callback: v => v } }
  }, [], { top: mc.t }, ['']);
}
const heatKey = (g, r, q, hx, y0) => [T('Gene', g, 533, 17), T('Risk', r, 532, 13),
  { x: q, y: y0, w: 12, h: 12.5, c: CYAN }, { x: q, y: y0 + 12.5, w: 12, h: 12.5, c: SALMON }, T('high', hx, y0 + 6, 12.7), T('low', hx, y0 + 18.5, 12.7)];
panelB({ genes: genesTrain, tone: toneTrain, low: lowTrain, cols: 136, split: 68, rect: { x: 38, y: 529, w: 469, h: 287 }, bar: { x: 602, y: 542, w: 7, h: 123 }, barLim: [-9.7, 3.6], n: heatKey(519, 619, 629, 641, 542) });
panelB({ genes: genesTest, tone: toneTest, low: lowTest, cols: 139, split: 69, rect: { x: 682, y: 529, w: 469, h: 287 }, bar: { x: 1244, y: 541, w: 7, h: 123 }, barLim: [-9.96, 3.74], n: heatKey(1160, 1257, 1266, 1280, 540) });
panelB({ genes: genesComb, tone: toneComb, low: lowComb, cols: 275, split: 137, rect: { x: 1340, y: 529, w: 469, h: 287 }, bar: { x: 1899, y: 541, w: 7, h: 123 }, barLim: [-10.1, 3.9], n: heatKey(1819, 1916, 1925, 1939, 540) });

const KM_RED = 'rgba(255,0,0,.3)', KM_BLUE = 'rgba(0,0,255,.3)';
const crossMarks = (groups, col) => ({ data: groups.flatMap(([s, ts]) => ts.map(t => ({ x: t, y: s }))), showLine: false, pointStyle: 'cross', pointRadius: 5.5, borderColor: col, pointBorderColor: col, pointBorderWidth: 1.6 });
const step = (t, s, col) => ({ data: pts(t, s), stepped: true, borderColor: col, borderWidth: 2.8, pointRadius: 0 });
const bandTop = (t, s, col) => ({ data: pts(t, s), stepped: true, borderWidth: 0, pointRadius: 0, fill: '+1', backgroundColor: col });
const bandBottom = (t, s) => ({ data: pts(t, s), stepped: true, borderWidth: 0, pointRadius: 0, fill: false });

function panelC(o) {
  const xt = tickRange(o.lastTick + 1);
  const m = { l: 85, r: 16, t: 48, b: 60 };
  place({ x: o.x, y: 911, w: 529, h: 274 }, m, 'line', [
    crossMarks(o.marksLow, '#0000FF'), crossMarks(o.marksHigh, '#FF0000'),
    step(o.lowT, o.lowS, '#0000FF'), step(o.highT, o.highS, '#FF0000'),
    bandTop(o.bLowT, o.bLowU, KM_BLUE), bandBottom(o.bLowT, o.bLowL),
    bandTop(o.bHighT, o.bHighU, KM_RED), bandBottom(o.bHighT, o.bHighL)
  ], {
    x: axis(o.xlim[0], o.xlim[1], xt, 20, m.b, { tick: 4, pad: 0, color: '#111' }),
    y: axis(-.0507, 1.044, [0, .25, .5, .75, 1], 20.5, m.l, { tick: 4, pad: 3, fmt: v => v.toFixed(2) })
  }, [notes(o.n)], { top: m.t, right: m.r });
  const mt = { l: 85, r: 16, t: 4, b: 55 };
  const numbers = { id: 'numbers', afterDatasetsDraw(chart) {
    const c = chart.ctx; c.save(); c.font = `21px ${FONT}`; c.fillStyle = '#111'; c.textAlign = 'center'; c.textBaseline = 'middle';
    chart.data.datasets.forEach((d, k) => chart.getDatasetMeta(k).data.forEach((p, i) => c.fillText(d.counts[i], p.x, p.y)));
    c.restore();
  } };
  const rowX = t => t === 0 ? (o.firstX ?? 0) : t;
  place({ x: o.x, y: 1261, w: 529, h: 48 }, mt, 'line', [
    { data: xt.map(t => ({ x: rowX(t), y: .75 })), counts: o.atHigh, showLine: false, pointRadius: 0 },
    { data: xt.map(t => ({ x: rowX(t), y: .27 })), counts: o.atLow, showLine: false, pointRadius: 0 }
  ], {
    x: axis(o.xlim[0], o.xlim[1], xt, 20, mt.b, { tick: 4, pad: 0 }),
    y: axis(0, 1, [.75, .27], 20, mt.l, { tick: 3, pad: 2, fmt: v => v > .5 ? 'High' : 'Low', color: c => c.tick && c.tick.value > .5 ? '#F53038' : '#3232F5' })
  }, [numbers, notes(o.nt)], { top: mt.t, right: mt.r });
}
const kmKey = (r, b1, h, b2, l) => [T('Risk', r, 879, 20.5),
  { x: b1, y: 871, w: 17.7, h: 18, c: '#FFB2B2' }, { x: b1, y: 880, len: 17.7, c: '#FF0000', cross: 1 }, T('High', h, 879, 20),
  { x: b2, y: 871, w: 17.7, h: 18, c: '#B2B2FF' }, { x: b2, y: 880, len: 17.7, c: '#0000FF', cross: 1 }, T('Low', l, 879, 20)];
panelC({ x: 105, xlim: [-.5, 10.49], lastTick: 10, highT: kmHighT1, highS: kmHighS1, lowT: kmLowT1, lowS: kmLowS1, bHighT: bandHighT1, bHighU: bandHighU1, bHighL: bandHighL1, bLowT: bandLowT1, bLowU: bandLowU1, bLowL: bandLowL1, marksHigh: marksHigh1, marksLow: marksLow1, atHigh: atRiskHigh1, atLow: atRiskLow1,
  n: [...kmKey(268.5, 312.7, 336.7, 389.3, 414.6), T('Survival probability', 36, 1044.4, 27.5, { r: -90, a: 'center' }), T('p=9.518e-05', 128.4, 1125.5, 27.4), T('Time(years)', 374, 1224.5, 27.6, { a: 'center' })],
  nt: [T('Risk', 34.5, 1285, 27, { r: -90, a: 'center' }), T('Time(years)', 374, 1349.5, 27.6, { a: 'center' })] });
panelC({ x: 762, xlim: [-.8, 16.78], lastTick: 16, highT: kmHighT2, highS: kmHighS2, lowT: kmLowT2, lowS: kmLowS2, bHighT: bandHighT2, bHighU: bandHighU2, bHighL: bandHighL2, bLowT: bandLowT2, bLowU: bandLowU2, bLowL: bandLowL2, marksHigh: marksHigh2, marksLow: marksLow2, atHigh: atRiskHigh2, atLow: atRiskLow2,
  n: [...kmKey(924.5, 970, 994, 1045.7, 1071), T('Survival probability', 692.7, 1049.5, 27.5, { r: -90, a: 'center' }), T('p=3.973e-04', 780.4, 1125, 27.4), T('Time(years)', 1020, 1224, 27.6, { a: 'center' })],
  nt: [T('Risk', 692.7, 1285.5, 27, { r: -90, a: 'center' }), T('Time(years)', 1020, 1348.2, 27.6, { a: 'center' })] });
panelC({ x: 1413, xlim: [-.8, 16.78], lastTick: 16, firstX: -.3, highT: kmHighT3, highS: kmHighS3, lowT: kmLowT3, lowS: kmLowS3, bHighT: bandHighT3, bHighU: bandHighU3, bHighL: bandHighL3, bLowT: bandLowT3, bLowU: bandLowU3, bLowL: bandLowL3, marksHigh: marksHigh3, marksLow: marksLow3, atHigh: atRiskHigh3, atLow: atRiskLow3,
  n: [...kmKey(1575.7, 1621, 1645, 1697, 1722), T('Survival probability', 1344, 1054.5, 27.5, { r: -90, a: 'center' }), T('p=5.098e-08', 1435.5, 1120.5, 27.4), T('Time(years)', 1673.5, 1226.5, 27.6, { a: 'center' })],
  nt: [T('Risk', 1344, 1285, 27, { r: -90, a: 'center' }), T('Time(years)', 1673.5, 1350, 27.6, { a: 'center' })] });

function panelD(o) {
  const line = (d, c, w) => ({ data: d.map(([x, y]) => ({ x, y })), borderColor: c, borderWidth: w, pointRadius: 0 });
  const v = [0, .2, .4, .6, .8, 1], f = x => x.toFixed(1);
  const m = { l: 90, r: 14, t: 6, b: 75 };
  place(o.rect, m, 'line', [
    line(o.r5, '#FF0000', 2.2), line(o.r3, '#FFA500', 2.2), line(o.r1, '#00FFFF', 2.6), line(rocDiagonal, '#444', 1)
  ], {
    x: axis(-.04, 1.04, v, 25, m.b, { tick: 6, pad: 3, fmt: f }),
    y: axis(-.04, 1.04, v, 25, m.l, { tick: 6, pad: 3, rot: 90, cross: 'center', fmt: f })
  }, [frame('#555'), notes(o.n)], { top: m.t, right: m.r });
}
const rocKey = (lx, tx, ys, s, vals) => [['#00FFFF', 1, 0], ['#FFA500', 3, 1], ['#FF0000', 5, 2]].flatMap(([c, yr, i]) => [
  { x: lx, y: ys[i], len: 25.5, c, lw: 2.6 }, T(`AUC at ${yr} years: ${vals[i]}`, tx, ys[i], s)]);
panelD({ rect: { x: 133, y: 1425, w: 465, h: 433 }, r1: roc1y1, r3: roc1y3, r5: roc1y5,
  n: [...rocKey(290.6, 322.4, [1785, 1810.5, 1835.5], 26.8, ['0.967', '0.933', '0.839']), T('True positive rate', 75.5, 1649.5, 34.6, { r: -90, a: 'center' }), T('False positive rate', 358, 1911.5, 34.6, { a: 'center' })] });
panelD({ rect: { x: 791, y: 1425, w: 463, h: 430 }, r1: roc2y1, r3: roc2y3, r5: roc2y5,
  n: [...rocKey(947.3, 980, [1779.5, 1805.5, 1831], 26.8, ['0.901', '0.788', '0.884']), T('True positive rate', 733, 1644.3, 34.6, { r: -90, a: 'center' }), T('False positive rate', 1015, 1909.5, 34.6, { a: 'center' })] });
panelD({ rect: { x: 1435, y: 1427, w: 462, h: 430 }, r1: roc3y1, r3: roc3y3, r5: roc3y5,
  n: [...rocKey(1622.9, 1658, [1784, 1810, 1835], 23, ['0.948', '0.849', '0.869']), T('True positive rate', 1375, 1643.6, 34.6, { r: -90, a: 'center' }), T('False positive rate', 1659, 1911, 34.6, { a: 'center' })] });

// set titles and panel letters
[['Training set', 380, -4], ['Testing set', 1020, -4], ['Combination set', 1694, -4]].forEach(([t, x, y]) => {
  const d = document.createElement('div'); d.className = 'lab'; d.textContent = t;
  d.style.left = x + 'px'; d.style.top = y + 'px'; d.style.transform = 'translateX(-50%)';
  document.body.appendChild(d);
});
[['A', 0, 30], ['B', 3, 513], ['C', 0, 863], ['D', 12, 1397]].forEach(([t, x, y]) => {
  const d = document.createElement('div'); d.className = 'lab'; d.textContent = t;
  d.style.left = x + 'px'; d.style.top = y + 'px';
  document.body.appendChild(d);
});
</script>
</body>
</html>
